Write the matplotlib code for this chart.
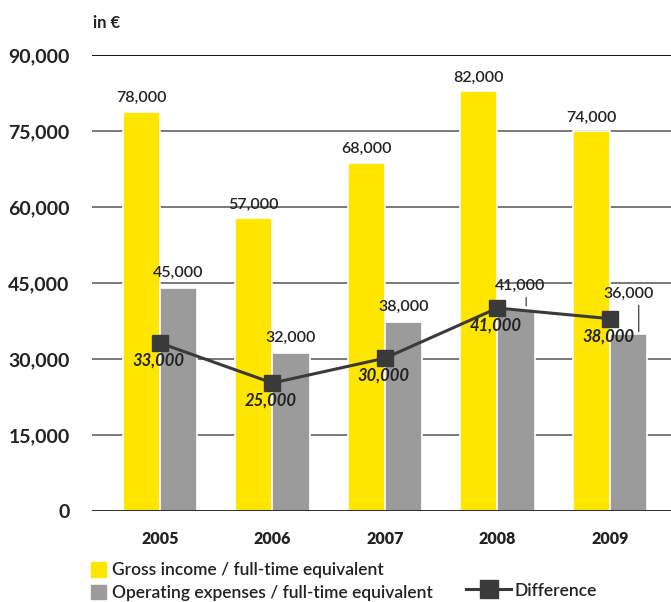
import matplotlib.pyplot as plt
import numpy as np
from matplotlib.patches import Patch
from matplotlib.lines import Line2D

plt.rcParams['font.family'] = ['Lato', 'DejaVu Sans']

# Data
years = ['2005', '2006', '2007', '2008', '2009']
gross_income = [78900, 57800, 68700, 82900, 75000]
operating_expenses = [44000, 31200, 37300, 40000, 34900]
difference = [33200, 25300, 30200, 40100, 38000]

gross_labels = ['78,000', '57,000', '68,000', '82,000', '74,000']
expense_labels = ['45,000', '32,000', '38,000', '41,000', '36,000']
difference_labels = ['33,000', '25,000', '30,000', '41,000', '38,000']

yticks = [0, 15000, 30000, 45000, 60000, 75000, 90000]

yellow = '#FFE600'
grey = '#9B9B9B'
dark = '#3A3A3A'
text_color = '#222222'

fig = plt.figure(figsize=(6.71, 6.02), dpi=100)
ax = fig.add_axes([0.137, 0.151, 0.863, 0.757])

x = np.arange(len(years))
w = 0.33

# Gridlines
for t in yticks[1:]:
    ax.axhline(t, color='black' if t == 90000 else '#6E6E6E', lw=1.3, zorder=0)
ax.axhline(0, color='#333333', lw=2.2, zorder=4)

ax.bar(x - w / 2, gross_income, w, color=yellow, edgecolor='white', lw=1.2, zorder=2)
ax.bar(x + w / 2, operating_expenses, w, color=grey, edgecolor='white', lw=1.2, zorder=2)
ax.plot(x, difference, color=dark, lw=2.2, marker='s', markersize=12, zorder=5)

# Value labels
for i in range(len(years)):
    ax.annotate(gross_labels[i], (x[i] - w / 2, gross_income[i]), xytext=(0, 5),
                textcoords='offset points', ha='center', va='bottom',
                fontsize=11.5, fontweight='semibold', color=text_color)

exp_offsets = [(0, 6), (0, 6), (0, 6), (3, 11), (0, 24)]
for i in range(len(years)):
    dx, dy = exp_offsets[i]
    ax.annotate(expense_labels[i], (x[i] + w / 2, operating_expenses[i]), xytext=(dx, dy),
                textcoords='offset points', ha='center', va='bottom',
                fontsize=11.5, fontweight='semibold', color=text_color, zorder=6)
    if dy > 8:
        ax.annotate('', (x[i] + w / 2 + 0.09, operating_expenses[i]),
                    xytext=(x[i] + w / 2 + 0.09, operating_expenses[i] + (dy - 1) * 1.389 / 5.067 * 1000),
                    arrowprops=dict(arrowstyle='-', color='#555555', lw=1), zorder=3)

for i in range(len(years)):
    ax.annotate(difference_labels[i], (x[i], difference[i]), xytext=(-1, -12.5),
                textcoords='offset points', ha='center', va='center',
                fontsize=12, fontweight='bold', fontstyle='italic', color=text_color, zorder=6)

ax.set_xlim(-0.604, 4.542)
ax.set_ylim(0, 90000)
ax.set_yticks(yticks)
ax.set_yticklabels([f'{t:,}' for t in yticks], fontsize=14, fontweight='bold', color=text_color)
ax.tick_params(axis='y', length=0, pad=16)
ax.set_xticks(x)
ax.set_xticklabels(years, fontsize=11.5, fontweight='heavy', color=text_color)
ax.tick_params(axis='x', length=0, pad=14)
for s in ax.spines.values():
    s.set_visible(False)

fig.text(0.139, 0.962, 'in €', fontsize=12, fontweight='bold', color=text_color, va='center')

# Legend
bar_handles = [Patch(color=yellow), Patch(color=grey)]
bar_labels = ['Gross income / full-time equivalent', 'Operating expenses / full-time equivalent']
leg1 = fig.legend(bar_handles, bar_labels, loc='upper left', bbox_to_anchor=(0.135, 0.066),
                  frameon=False, fontsize=12.5, handlelength=0.9, handleheight=0.9,
                  handletextpad=0.35, labelspacing=0.35, borderaxespad=0, borderpad=0)
for t in leg1.get_texts():
    t.set_fontweight('semibold')
    t.set_color(text_color)

line_handle = Line2D([], [], color=dark, lw=2.2, marker='s', markersize=13)
leg2 = fig.legend([line_handle], ['Difference'], loc='center left', bbox_to_anchor=(0.695, 0.019),
                  frameon=False, fontsize=12.5, handlelength=2.6, handletextpad=0.15,
                  borderaxespad=0, borderpad=0)
for t in leg2.get_texts():
    t.set_fontweight('semibold')
    t.set_color(text_color)

fig.savefig('out.png', dpi=100)
